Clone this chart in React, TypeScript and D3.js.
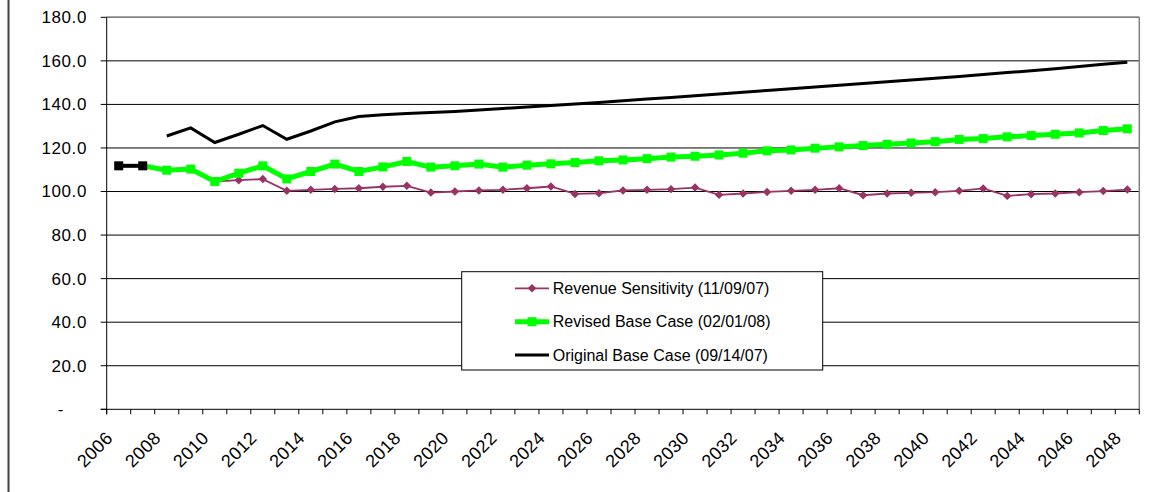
import React from "react";
import * as d3 from "d3";

// Fiscal years on the category axis
const years: string[] = [
  "2006", "2007", "2008", "2009", "2010", "2011", "2012", "2013", "2014", "2015",
  "2016", "2017", "2018", "2019", "2020", "2021", "2022", "2023", "2024", "2025",
  "2026", "2027", "2028", "2029", "2030", "2031", "2032", "2033", "2034", "2035",
  "2036", "2037", "2038", "2039", "2040", "2041", "2042", "2043", "2044", "2045",
  "2046", "2047", "2048",
];

// Labels shown under the axis (every other year)
const yearLabels: string[] = [
  "2006", "2008", "2010", "2012", "2014", "2016", "2018", "2020", "2022", "2024", "2026",
  "2028", "2030", "2032", "2034", "2036", "2038", "2040", "2042", "2044", "2046", "2048",
];

const yTicks: number[] = [0, 20, 40, 60, 80, 100, 120, 140, 160, 180];

// Revenue Sensitivity (11/09/07)
const revenueSensitivity: (number | null)[] = [
  null, null, null, null, 104.6, 105.2, 105.7, 100.3, 100.8, 101.2,
  101.5, 102.2, 102.6, 99.5, 100.0, 100.5, 100.8, 101.5, 102.3, 98.9,
  99.2, 100.5, 100.8, 101.1, 101.8, 98.5, 99.1, 99.8, 100.3, 100.8,
  101.5, 98.3, 99.1, 99.4, 99.7, 100.3, 101.4, 98.0, 98.8, 99.1,
  99.7, 100.2, 100.9,
];

// Revised Base Case (02/01/08); the first two years are actuals
const revisedBase: (number | null)[] = [
  111.8, 111.8, 109.8, 110.3, 104.6, 108.4, 111.8, 105.8, 109.2, 112.6,
  109.2, 111.3, 113.8, 111.2, 111.8, 112.6, 111.2, 112.1, 112.7, 113.3,
  114.1, 114.5, 115.1, 115.8, 116.2, 116.8, 117.6, 118.7, 119.1, 119.9,
  120.5, 121.1, 121.7, 122.3, 122.9, 123.9, 124.3, 125.1, 125.7, 126.3,
  126.9, 128.0, 128.8,
];
const actualYears = 2;

// Original Base Case (09/14/07)
const originalBase: (number | null)[] = [
  null, null, 125.5, 129.2, 122.5, 126.3, 130.3, 124.0, 127.8, 132.0,
  134.4, 135.2, 135.8, 136.3, 136.8, 137.4, 138.1, 138.8, 139.5, 140.2,
  140.9, 141.7, 142.5, 143.2, 144.0, 144.8, 145.6, 146.4, 147.2, 148.0,
  148.8, 149.6, 150.4, 151.2, 152.0, 152.8, 153.7, 154.6, 155.5, 156.4,
  157.4, 158.4, 159.4,
];

const seriesNames: string[] = [
  "Revenue Sensitivity (11/09/07)",
  "Revised Base Case (02/01/08)",
  "Original Base Case (09/14/07)",
];

const W = 1162;
const H = 492;
const plot = { left: 106.7, right: 1139.3, top: 17.3, bottom: 409.3 };
const FONT = "Arial, 'Liberation Sans', sans-serif";
const PURPLE = "#993366";
const GREEN = "#00ff00";

export default function App() {
  const x = d3.scaleBand<string>().domain(years).range([plot.left, plot.right]).padding(0);
  const y = d3.scaleLinear().domain([0, 180]).range([plot.bottom, plot.top]);
  const cx = (yr: string) => (x(yr) as number) + x.bandwidth() / 2;
  const fmt = d3.format(".1f");

  type Pt = { yr: string; v: number | null };
  const toPts = (vals: (number | null)[]): Pt[] => years.map((yr, i) => ({ yr, v: vals[i] }));
  const line = d3
    .line<Pt>()
    .defined((d) => d.v !== null)
    .x((d) => cx(d.yr))
    .y((d) => y(d.v as number));

  const sensPts = toPts(revenueSensitivity);
  const revPts = toPts(revisedBase);
  const origPts = toPts(originalBase);

  const diamond = d3.symbol().type(d3.symbolDiamond2).size(46)() as string;
  const sq = 9;

  // Category boundaries for tick marks
  const boundaries = years.map((yr) => x(yr) as number).concat([plot.right]);

  const legend = { x: 461.7, y: 271.7, w: 361, h: 98.3 };
  const rowY = [288.3, 321.7, 355];
  const lx0 = 515;
  const lx1 = 549;
  const lmid = 532;

  return (
    <div style={{ position: "absolute", left: 0, top: 0 }}>
      <svg width={W} height={H} style={{ display: "block", background: "#fff" }} fontFamily={FONT}>
        <rect x={0} y={0} width={W} height={H} fill="#fff" />
        {/* outer chart frame edge */}
        <line x1={8.5} x2={8.5} y1={0} y2={H} stroke="#404040" strokeWidth={2} />

        {/* gridlines */}
        {yTicks.filter((t) => t > 0).map((t) => (
          <line key={`g${t}`} x1={plot.left} x2={plot.right} y1={y(t)} y2={y(t)} stroke="#000" strokeWidth={1} />
        ))}
        {/* plot area border */}
        <line x1={plot.left} x2={plot.right} y1={plot.top} y2={plot.top} stroke="#808080" strokeWidth={1.5} />
        <line x1={plot.right} x2={plot.right} y1={plot.top} y2={plot.bottom} stroke="#808080" strokeWidth={1.5} />

        {/* y axis */}
        <line x1={plot.left} x2={plot.left} y1={plot.top} y2={plot.bottom + 5} stroke="#000" strokeWidth={1} />
        {yTicks.map((t) => (
          <g key={`yt${t}`}>
            <line x1={plot.left - 6} x2={plot.left} y1={y(t)} y2={y(t)} stroke="#000" strokeWidth={1} />
            <text
              x={t === 0 ? 64 : 87}
              y={y(t)}
              dy="0.35em"
              textAnchor="end"
              fontSize={17}
              letterSpacing={0.6}
              fill="#000"
            >
              {t === 0 ? "-" : fmt(t)}
            </text>
          </g>
        ))}

        {/* x axis */}
        <line x1={plot.left - 6} x2={plot.right} y1={plot.bottom} y2={plot.bottom} stroke="#000" strokeWidth={1} />
        {boundaries.map((bx, i) => (
          <line key={`xt${i}`} x1={bx} x2={bx} y1={plot.bottom} y2={plot.bottom + 5} stroke="#000" strokeWidth={1} />
        ))}
        {yearLabels.map((yr) => (
          <text
            key={`xl${yr}`}
            transform={`translate(${cx(yr) - 5},${plot.bottom + 30}) rotate(-45)`}
            textAnchor="end"
            fontSize={18}
            letterSpacing={0.3}
            fill="#000"
          >
            {yr}
          </text>
        ))}

        {/* Revenue Sensitivity */}
        <path d={line(sensPts) as string} fill="none" stroke={PURPLE} strokeWidth={1.8} />
        {sensPts.filter((d) => d.v !== null).map((d) => (
          <path key={`s${d.yr}`} d={diamond} transform={`translate(${cx(d.yr)},${y(d.v as number)})`} fill={PURPLE} />
        ))}

        {/* Revised Base Case */}
        <path d={line(revPts.slice(actualYears - 1)) as string} fill="none" stroke={GREEN} strokeWidth={5} />
        <path d={line(revPts.slice(0, actualYears)) as string} fill="none" stroke="#000" strokeWidth={4} />
        {revPts.map((d, i) => (
          <rect
            key={`r${d.yr}`}
            x={cx(d.yr) - sq / 2}
            y={y(d.v as number) - sq / 2}
            width={sq}
            height={sq}
            fill={i < actualYears ? "#000" : GREEN}
          />
        ))}

        {/* Original Base Case */}
        <path d={line(origPts) as string} fill="none" stroke="#000" strokeWidth={3} />

        {/* legend */}
        <rect x={legend.x} y={legend.y} width={legend.w} height={legend.h} fill="#fff" stroke="#000" strokeWidth={1} />
        <line x1={lx0} x2={lx1} y1={rowY[0]} y2={rowY[0]} stroke={PURPLE} strokeWidth={1.8} />
        <path d={diamond} transform={`translate(${lmid},${rowY[0]})`} fill={PURPLE} />
        <line x1={lx0} x2={lx1} y1={rowY[1]} y2={rowY[1]} stroke={GREEN} strokeWidth={5} />
        <rect x={lmid - sq / 2} y={rowY[1] - sq / 2} width={sq} height={sq} fill={GREEN} />
        <line x1={lx0} x2={lx1} y1={rowY[2]} y2={rowY[2]} stroke="#000" strokeWidth={3} />
        {seriesNames.map((name, i) => (
          <text key={name} x={552.7} y={rowY[i]} dy="0.35em" fontSize={16} fill="#000">
            {name}
          </text>
        ))}
      </svg>
    </div>
  );
}
